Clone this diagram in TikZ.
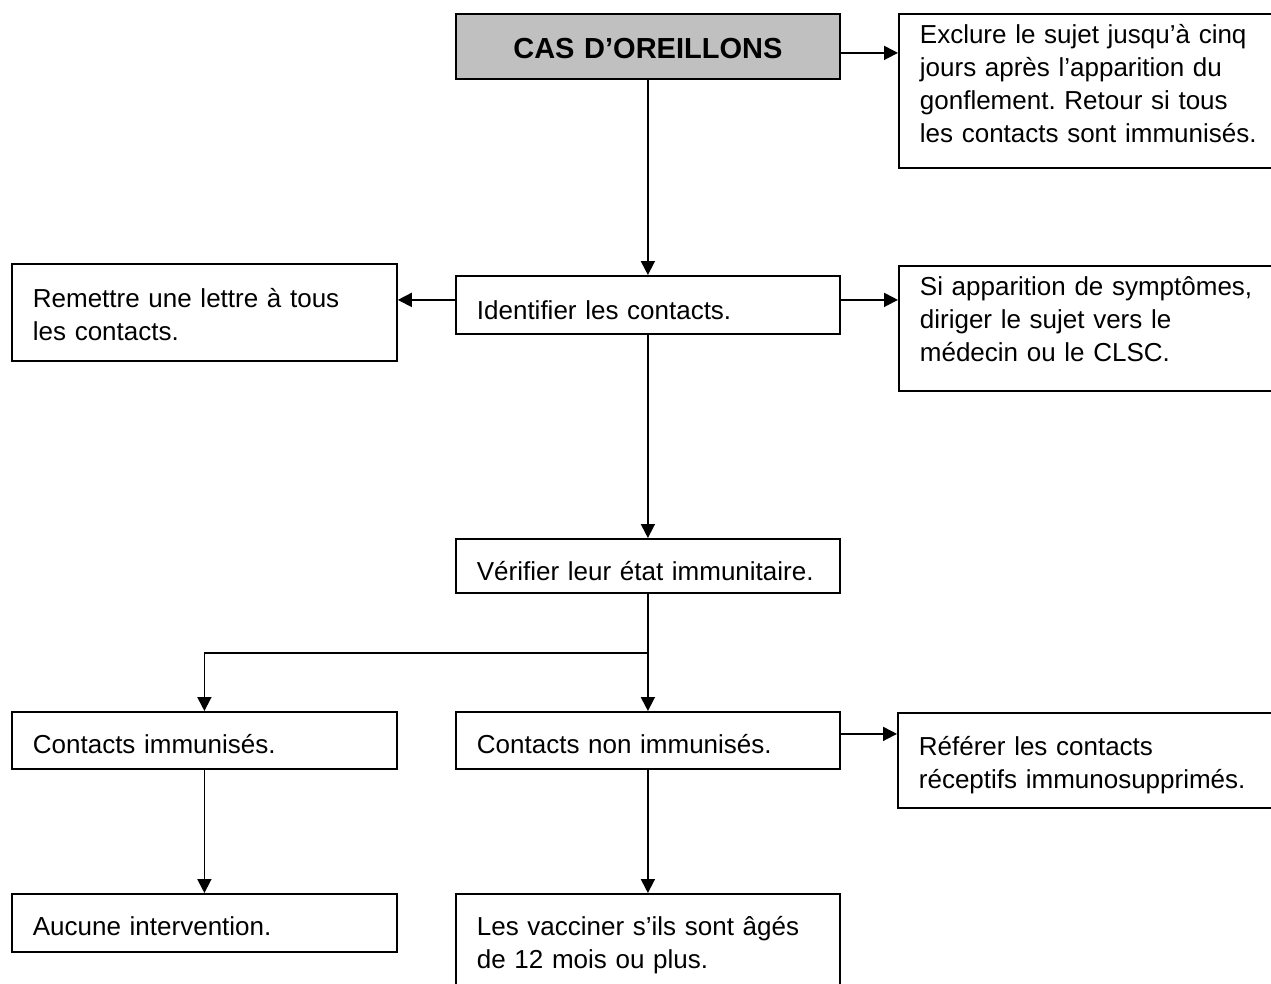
\documentclass[tikz,border=0pt]{standalone}
\usepackage{fontspec}
\setmainfont{Liberation Sans}
\usetikzlibrary{arrows.meta}
\definecolor{boxgray}{RGB}{192,192,192}
\frenchspacing

\begin{document}
\begin{tikzpicture}[x=1pt,y=1pt]
\tikzstyle{every node}+=[inner sep=0pt]
\tikzstyle{box}=[draw=black, line width=1.8pt, anchor=north west, inner xsep=21pt, inner ysep=0pt, align=left, font=\fontsize{26}{33}\selectfont]
\tikzstyle{arr}=[line width=1.8pt, -{Triangle[length=14pt,width=14pt]}]
\clip (0,0) rectangle (1271,-983);
\node [box, fill=boxgray, align=center, font=\fontsize{29}{33}\selectfont\bfseries, text width=342pt, text height=45pt, text depth=20pt] (cas) at (455,-13) {CAS D’OREILLONS};
\node [box, text width=361pt, text height=30pt, text depth=124pt] (excl) at (898,-13) {Exclure le sujet jusqu’à cinq\\jours après l’apparition du\\gonflement. Retour si tous\\les contacts sont immunisés.};
\node [box, text width=342pt, text height=44pt, text depth=14pt] (ident) at (455,-275) {Identifier les contacts.};
\node [box, text width=343pt, text height=44pt, text depth=53pt] (remet) at (11,-263) {Remettre une lettre à tous\\les contacts.};
\node [box, text width=361pt, text height=30pt, text depth=95pt] (symp) at (898,-265) {Si apparition de symptômes,\\diriger le sujet vers le\\médecin ou le CLSC.};
\node [box, text width=342pt, text height=42pt, text depth=12pt] (verif) at (455,-538) {Vérifier leur état immunitaire.};
\node [box, text width=343pt, text height=42pt, text depth=15pt] (imm) at (11,-711) {Contacts immunisés.};
\node [box, text width=342pt, text height=42pt, text depth=15pt] (nonimm) at (455,-711) {Contacts non immunisés.};
\node [box, text width=361pt, text height=43pt, text depth=52pt] (refer) at (897,-712) {Référer les contacts\\réceptifs immunosupprimés.};
\node [box, text width=343pt, text height=42pt, text depth=16pt] (aucune) at (11,-893) {Aucune intervention.};
\node [box, text width=342pt, text height=42pt, text depth=120pt] (vacc) at (455,-893) {Les vacciner s’ils sont âgés\\de 12 mois ou plus.};
\coordinate (fork) at (647,-653);
\draw [arr] (cas) -- (ident);
\draw [arr] ([yshift=-6.5pt]cas.east) -- ([yshift=-6.5pt]cas.east -| excl.west);
\draw [arr] ([yshift=5pt]ident.east) -- ([yshift=5pt]ident.east -| symp.west);
\draw [arr] ([yshift=5pt]ident.west) -- ([yshift=5pt]ident.west -| remet.east);
\draw [arr] (ident) -- (verif);
\draw [arr] (verif) -- (nonimm);
\draw [arr] (fork) -| (imm.north);
\draw [arr] (imm) -- (aucune);
\draw [arr] (nonimm) -- (vacc);
\draw [arr] ([yshift=6.5pt]nonimm.east) -- ([yshift=6.5pt]nonimm.east -| refer.west);
\end{tikzpicture}
\end{document}
